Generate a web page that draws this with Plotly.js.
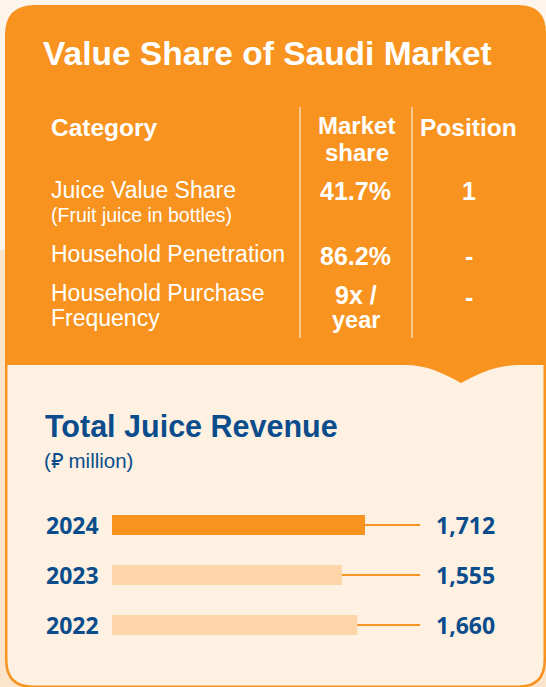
<!DOCTYPE html>
<html>
<head>
<meta charset="utf-8">
<script src="https://cdn.plot.ly/plotly-3.0.1.min.js"></script>
<style>html,body{margin:0;padding:0;background:#FDF4EC;}#chart{width:546px;height:687px;}</style>
</head>
<body>
<div id="chart"></div>
<script>
// ---- data ----
const years = ['2022', '2023', '2024'];
const revenue = [1660, 1555, 1712];           // SAR million
const tableCategories = ['Juice Value Share', 'Household Penetration', 'Household Purchase<br>Frequency'];
const tableNotes = ['(Fruit juice in bottles)', '', ''];
const tableShares = ['41.7%', '86.2%', '9x /<br>year'];
const tablePositions = ['1', '-', '-'];
const tableHeaders = ['Category', 'Market<br>share', 'Position'];

// ---- layout helpers ----
const W = 546, H = 687;
const X = p => p / W;
const Y = p => 1 - p / H;
function path(cmds) {
  return cmds.map(c => {
    const L = c[0];
    const nums = c.slice(1);
    const out = [];
    for (let i = 0; i < nums.length; i += 2) out.push(X(nums[i]).toFixed(5) + ',' + Y(nums[i + 1]).toFixed(5));
    return L + ' ' + out.join(' ');
  }).join(' ') + ' Z';
}

const ORANGE = '#F7931E';
const LIGHT = '#FDD5A8';
const CREAM = '#FEF1E1';
const BLUE = '#0B4D8C';
const SANS = 'Liberation Sans, Arial, sans-serif';
const NUMF = 'Open Sans, Noto Sans, sans-serif';
const X_MAX = 2084; // axis end where connector lines stop

const shapes = [
  {type: 'rect', xref: 'paper', yref: 'paper', x0: 0, x1: 1, y0: 0, y1: Y(250), fillcolor: '#FCE4CB', line: {width: 0}, layer: 'below'},
  {type: 'path', xref: 'paper', yref: 'paper', layer: 'below', fillcolor: ORANGE, line: {width: 0},
    path: path([['M', 5, 35], ['Q', 5, 5, 35, 5], ['L', 518, 5], ['Q', 546, 5, 546, 33], ['L', 546, 660], ['Q', 546, 688, 518, 688], ['L', 33, 688], ['Q', 5, 688, 5, 660]])},
  {type: 'path', xref: 'paper', yref: 'paper', layer: 'below', fillcolor: CREAM, line: {width: 0},
    path: path([['M', 7.5, 365], ['L', 405, 365], ['C', 427, 365, 443, 373, 461, 383], ['C', 479, 373, 497, 365, 519, 365], ['L', 543.5, 365], ['L', 543.5, 660], ['Q', 543.5, 685.5, 518, 685.5], ['L', 33, 685.5], ['Q', 7.5, 685.5, 7.5, 660]])},
  {type: 'line', xref: 'paper', yref: 'paper', x0: X(300), x1: X(300), y0: Y(107), y1: Y(338), line: {color: '#FFFFFF', width: 1}},
  {type: 'line', xref: 'paper', yref: 'paper', x0: X(412), x1: X(412), y0: Y(107), y1: Y(338), line: {color: '#FFFFFF', width: 1}}
];

const ann = [];
function txt(text, px, py, size, opts) {
  opts = opts || {};
  ann.push({
    text: text, xref: 'paper', yref: 'paper', x: X(px), y: Y(py),
    xanchor: opts.xa || 'left', yanchor: 'middle', showarrow: false,
    borderpad: 0, borderwidth: 0, align: opts.xa === 'center' ? 'center' : 'left',
    font: {family: opts.family || SANS, size: size, color: opts.color || '#FFFFFF', weight: opts.bold ? 700 : 400}
  });
}

// panel title
txt('Value Share of Saudi Market', 43, 53, 33.5, {bold: true});
// table headers
txt(tableHeaders[0], 51, 127, 24.5, {bold: true});
const hdr2 = tableHeaders[1].split('<br>');
txt(hdr2[0], 356.5, 126, 24, {bold: true, xa: 'center'});
txt(hdr2[1], 356.5, 152, 24, {bold: true, xa: 'center'});
txt(tableHeaders[2], 468.5, 127, 24.5, {bold: true, xa: 'center'});

// table rows
const rowY = [[190], [254], [293, 318]];
const noteY = [215, null, null];
const shareY = [[191], [256], [295, 320]];
tableCategories.forEach((c, i) => {
  const lines = c.split('<br>');
  lines.forEach((l, j) => txt(l, 51, rowY[i][j], 23));
  if (tableNotes[i]) txt(tableNotes[i], 51, noteY[i], 19.5);
  const sl = tableShares[i].split('<br>');
  sl.forEach((l, j) => txt(l, 355.5, shareY[i][j], j === 0 ? 25 : 23.5, {bold: true, xa: 'center'}));
  txt(tablePositions[i], 469, (i === 2 ? 297 : shareY[i][0] - 0.5), 25, {bold: true, xa: 'center'});
});

// bottom section titles
txt('Total Juice Revenue', 45, 426, 30.5, {bold: true, color: BLUE});
txt('(\u20C1 million)', 44, 460, 20.5, {color: BLUE});

// year labels and values (category index on the y axis)
years.forEach((y, i) => {
  ann.push({text: y, xref: 'paper', yref: 'y', x: X(46), y: i, xanchor: 'left', yanchor: 'middle',
    showarrow: false, borderpad: 0, borderwidth: 0,
    font: {family: NUMF, size: 23, color: BLUE, weight: 700}});
  ann.push({text: revenue[i].toLocaleString('en-US'), xref: 'paper', yref: 'y', x: X(495), y: i,
    xanchor: 'right', yanchor: 'middle', showarrow: false, borderpad: 0, borderwidth: 0,
    font: {family: NUMF, size: 23, color: BLUE, weight: 700}});
});

const traces = [];
// connector lines (behind bars)
years.forEach((y, i) => {
  traces.push({type: 'scatter', mode: 'lines', x: [revenue[i], X_MAX], y: [y, y],
    line: {color: ORANGE, width: 2}, hoverinfo: 'skip', showlegend: false});
});
traces.push({
  type: 'bar', orientation: 'h', y: years, x: revenue, width: 0.4,
  marker: {color: years.map(y => y === '2024' ? ORANGE : LIGHT), line: {width: 0}},
  hoverinfo: 'skip', showlegend: false
});

const layout = {
  width: W, height: H,
  margin: {l: 0, r: 0, t: 0, b: 0},
  paper_bgcolor: '#FDF4EC', plot_bgcolor: 'rgba(0,0,0,0)',
  showlegend: false,
  xaxis: {domain: [X(112), X(420)], range: [0, X_MAX], visible: false, fixedrange: true},
  yaxis: {domain: [Y(650), Y(500)], type: 'category', categoryorder: 'array', categoryarray: years,
    range: [-0.5, 2.5], visible: false, fixedrange: true},
  shapes: shapes,
  annotations: ann
};

Plotly.newPlot('chart', traces, layout, {displayModeBar: false, staticPlot: true});
</script>
</body>
</html>
